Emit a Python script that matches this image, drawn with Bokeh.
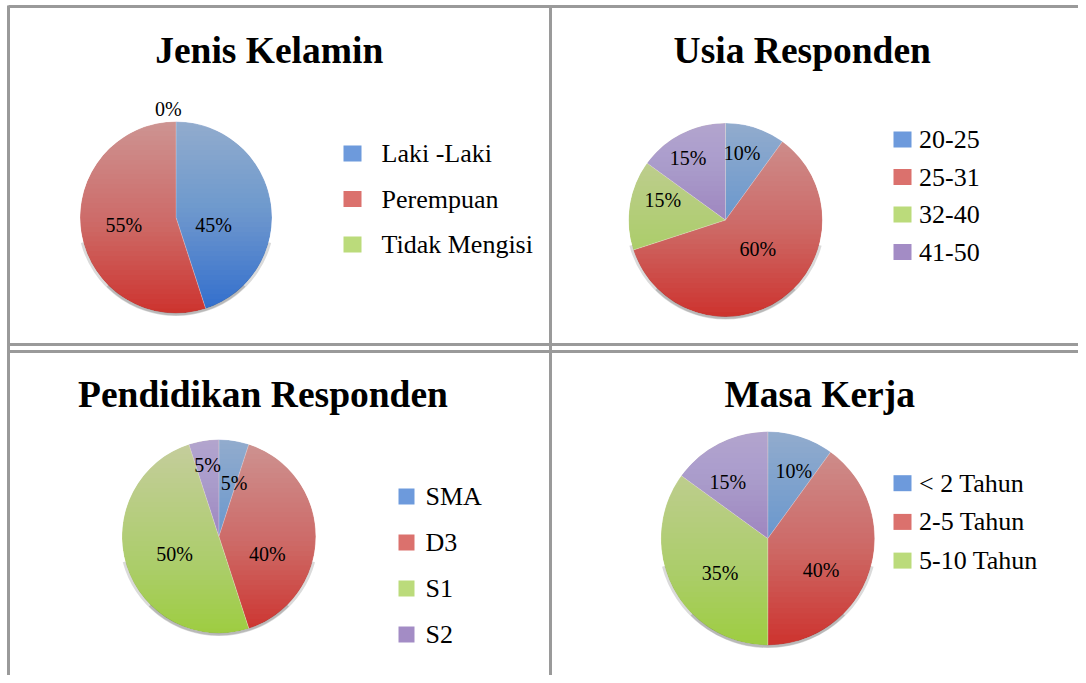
import math
from bokeh.plotting import figure
from bokeh.models import Range1d, ColumnDataSource
from bokeh.core.properties import value
from bokeh.embed import file_html
from bokeh.resources import INLINE

# ---------------- data ----------------
titles = ["Jenis Kelamin", "Usia Responden", "Pendidikan Responden", "Masa Kerja"]

jk_labels = ["Laki -Laki", "Perempuan", "Tidak Mengisi"]
jk_values = [45, 55, 0]

usia_labels = ["20-25", "25-31", "32-40", "41-50"]
usia_values = [10, 60, 15, 15]

pend_labels = ["SMA", "D3", "S1", "S2"]
pend_values = [5, 40, 50, 5]

masa_labels = ["< 2 Tahun", "2-5 Tahun", "5-10 Tahun"]
masa_values = [10, 40, 35, 15]

# ---------------- style ----------------
base_colors = ["#2F6ECD", "#CC342E", "#9ECC42", "#7B5AAC"]
SERIF = "Liberation Serif"

W, H = 1078, 675


def Y(py):
    return H - py


def mix_white(hexcol, a):
    h = hexcol.lstrip("#")
    r, g, b = int(h[0:2], 16), int(h[2:4], 16), int(h[4:6], 16)
    r = round(r + (255 - r) * a)
    g = round(g + (255 - g) * a)
    b = round(b + (255 - b) * a)
    return "#%02x%02x%02x" % (r, g, b)


p = figure(width=W, height=H, x_range=Range1d(0, W), y_range=Range1d(0, H),
           output_backend="svg", toolbar_location=None, min_border=0,
           background_fill_color="white", border_fill_color="white")
p.axis.visible = False
p.grid.visible = False
p.outline_line_color = None

# layout: pie centre / radius, title position, legend geometry,
# label placement (radius fraction, angular nudge in degrees)
panels = [
    dict(title=titles[0], tx=268.7, ty=50, legend=jk_labels, values=jk_values,
         cx=175.5, cy=217, R=96, sq_x=343, sq_w=18, leg_tx=381, leg_y0=153, leg_dy=45.5,
         lab=[(0.40, 20), (0.55, 1), (1.13, -4)]),
    dict(title=titles[1], tx=801.8, ty=50, legend=usia_labels, values=usia_values,
         cx=725, cy=219.5, R=97, sq_x=893, sq_w=18, leg_tx=918.5, leg_y0=139, leg_dy=37.5,
         lab=[(0.71, -4), (0.45, -12), (0.68, 9), (0.75, -4)]),
    dict(title=titles[2], tx=262.5, ty=394, legend=pend_labels, values=pend_values,
         cx=218.4, cy=536, R=97, sq_x=398, sq_w=16, leg_tx=425, leg_y0=496, leg_dy=46,
         lab=[(0.57, 7), (0.53, 20), (0.49, -3), (0.75, 0)]),
    dict(title=titles[3], tx=819.2, ty=394, legend=masa_labels, values=masa_values,
         cx=767.3, cy=538, R=107, sq_x=893, sq_w=18, leg_tx=918.5, leg_y0=482.7, leg_dy=38.7,
         lab=[(0.68, 3), (0.58, 13), (0.55, -9), (0.65, -8)]),
]

N_BANDS = 40
TOP_WHITE = 0.55
band_alpha = 1 - (1 - TOP_WHITE) ** (1.0 / N_BANDS)

# ---- pies (wedges + gradient + mask + shadow + labels) ----
for pn in panels:
    vals = pn["values"]
    total = float(sum(vals))
    cx, cy, R = pn["cx"], Y(pn["cy"]), pn["R"]
    starts, ends, cols = [], [], []
    cum = 0.0
    for i, v in enumerate(vals):
        a0 = math.pi / 2 - 2 * math.pi * cum / total
        cum += v
        a1 = math.pi / 2 - 2 * math.pi * cum / total
        if v > 0:
            starts.append(a0)
            ends.append(a1)
            cols.append(base_colors[i])
    src = ColumnDataSource(dict(x=[cx] * len(starts), y=[cy] * len(starts),
                                s=starts, e=ends, c=cols))
    p.wedge(x="x", y="y", radius=R, start_angle="s", end_angle="e",
            direction="clock", fill_color="c", line_color="white",
            line_width=0.5, line_alpha=0.4, source=src)
    # vertical light->dark gradient overlay
    bottoms = [cy - R + (k + 1) * 2 * R / N_BANDS for k in range(N_BANDS)]
    p.quad(left=[cx - R - 2] * N_BANDS, right=[cx + R + 2] * N_BANDS,
           bottom=bottoms, top=[cy + R + 2] * N_BANDS,
           fill_color="white", fill_alpha=band_alpha, line_color=None)
    # white mask to clip overlay to the circle
    p.annulus(x=[cx], y=[cy], inner_radius=R, outer_radius=R * 1.47,
              fill_color="white", line_color=None)
    # soft shadow at the bottom rim
    p.annular_wedge(x=[cx], y=[cy], inner_radius=R - 0.5, outer_radius=R + 2.5,
                    start_angle=math.radians(195), end_angle=math.radians(345),
                    fill_color="#555555", fill_alpha=0.22, line_color=None)
    p.annular_wedge(x=[cx], y=[cy], inner_radius=R - 0.5, outer_radius=R + 2,
                    start_angle=math.radians(225), end_angle=math.radians(315),
                    fill_color="#444444", fill_alpha=0.22, line_color=None)

    # percentage labels, placed from each slice's mid angle
    lx, ly, lt = [], [], []
    cum = 0.0
    for v, (rf, nudge) in zip(vals, pn["lab"]):
        mid = math.pi / 2 - 2 * math.pi * (cum + v / 2) / total - math.radians(nudge)
        cum += v
        lx.append(cx + rf * R * math.cos(mid))
        ly.append(cy + rf * R * math.sin(mid))
        lt.append("%d%%" % round(100 * v / total))
    p.text(x=lx, y=ly, text=lt, text_font=value(SERIF), text_font_size="20px",
           text_align="center", text_baseline="middle", text_color="black")

# ---- titles & legends ----
for pn in panels:
    p.text(x=[pn["tx"]], y=[Y(pn["ty"])], text=[pn["title"]], text_font=value(SERIF),
           text_font_size="37.5px", text_font_style="bold", text_align="center",
           text_baseline="middle", text_color="black")
    n = len(pn["legend"])
    ys = [Y(pn["leg_y0"] + i * pn["leg_dy"]) for i in range(n)]
    sw = pn["sq_w"]
    sx = pn["sq_x"] + sw / 2
    p.rect(x=[sx] * n, y=ys, width=sw, height=16,
           fill_color=[mix_white(c, 0.3) for c in base_colors[:n]], line_color=None)
    p.text(x=[pn["leg_tx"]] * n, y=ys, text=pn["legend"], text_font=value(SERIF),
           text_font_size="26px", text_align="left", text_baseline="middle",
           text_color="black")

# ---- table borders ----
bc = "#9a9a9a"
p.segment(x0=[8, 8, 550, 8, 8], y0=[Y(6), Y(5), Y(5), Y(344), Y(351)],
          x1=[W, 8, 550, W, W], y1=[Y(6), Y(H), Y(H), Y(344), Y(351)],
          line_color=bc, line_width=3)

open("out.html", "w").write(file_html(p, INLINE))
